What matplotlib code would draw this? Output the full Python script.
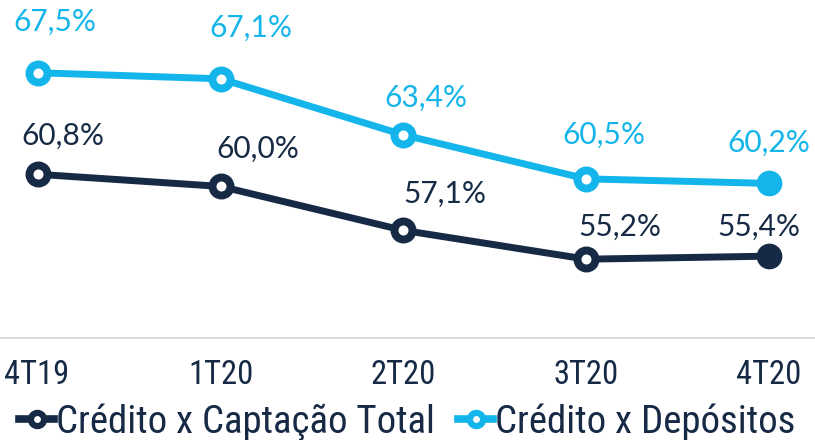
import matplotlib
matplotlib.use("Agg")
import matplotlib.pyplot as plt
from matplotlib import font_manager
from matplotlib.lines import Line2D
import matplotlib.transforms as mtransforms

# data
quarters = ["4T19", "1T20", "2T20", "3T20", "4T20"]
credito_captacao = [60.8, 60.0, 57.1, 55.2, 55.4]
credito_depositos = [67.5, 67.1, 63.4, 60.5, 60.2]

dark = "#172a45"
light = "#13b5ea"

# pick a narrow font for ticks / legend if there is one
names = {f.name for f in font_manager.fontManager.ttflist}
narrow = None
for cand in ["Liberation Sans Narrow", "DejaVu Sans Condensed", "Roboto Condensed"]:
    if cand in names:
        narrow = cand
        break
if narrow is None:
    narrow_kw = dict(family="DejaVu Sans", stretch="condensed")
else:
    narrow_kw = dict(family=narrow)

plt.rcParams["font.family"] = ["Lato", "DejaVu Sans"]

fig = plt.figure(figsize=(8.15, 4.4), dpi=100)
ax = fig.add_axes([0, 1 - 338 / 440, 1, 338 / 440])

x = list(range(len(quarters)))

def draw(vals, color, dxs, dys):
    ax.plot(x, vals, color=color, lw=5, solid_capstyle="round", zorder=2)
    ax.plot(x[:-1], vals[:-1], "o", ms=13, mew=5.7, mfc="white", mec=color, zorder=3)
    ax.plot(x[-1:], vals[-1:], "o", ms=18.5, mew=0, mfc=color, zorder=3)
    for xi, v, dx, dy in zip(x, vals, dxs, dys):
        ax.annotate(f"{v:.1f}%".replace(".", ","), (xi, v), xytext=(dx, dy),
                    textcoords="offset points", ha="center", va="center",
                    fontsize=21.5, color=color)

draw(credito_depositos, light, [12, 22, 16, 13, 0], [37, 37, 27, 32, 29])
draw(credito_captacao, dark, [18, 27, 30, 24, -7], [28, 27, 26, 23, 21])

ax.set_xlim(-0.208, 4.252)
ax.set_ylim(50, 72.3)
for s in ["top", "left", "right"]:
    ax.spines[s].set_visible(False)
ax.spines["bottom"].set_color("#d9d9d9")
ax.spines["bottom"].set_linewidth(1.5)
ax.set_yticks([])
ax.set_xticks(x)
ax.set_xticklabels(quarters, fontsize=23.5, color=dark, **narrow_kw)
ax.tick_params(axis="x", length=0, pad=15)
# first label sits flush with the left edge
first = ax.get_xticklabels()[0]
first.set_ha("left")
first.set_transform(first.get_transform() + mtransforms.ScaledTranslation(-34 / 100, 0, fig.dpi_scale_trans))

handles = [
    Line2D([], [], color=dark, lw=5.5, marker="o", ms=9.5, mew=4.5, mfc="white", mec=dark),
    Line2D([], [], color=light, lw=5.5, marker="o", ms=9.5, mew=4.5, mfc="white", mec=light),
]
leg = fig.legend(handles, ["Crédito x Captação Total", "Crédito x Depósitos"],
                 loc="center", bbox_to_anchor=(0.5, 1 - 422 / 440), ncol=2, frameon=False,
                 handlelength=0.9, handletextpad=0.05, columnspacing=0.6,
                 borderpad=0, borderaxespad=0,
                 prop=font_manager.FontProperties(size=28, **narrow_kw))
for t in leg.get_texts():
    t.set_color(dark)

fig.savefig("out.png", dpi=100)
